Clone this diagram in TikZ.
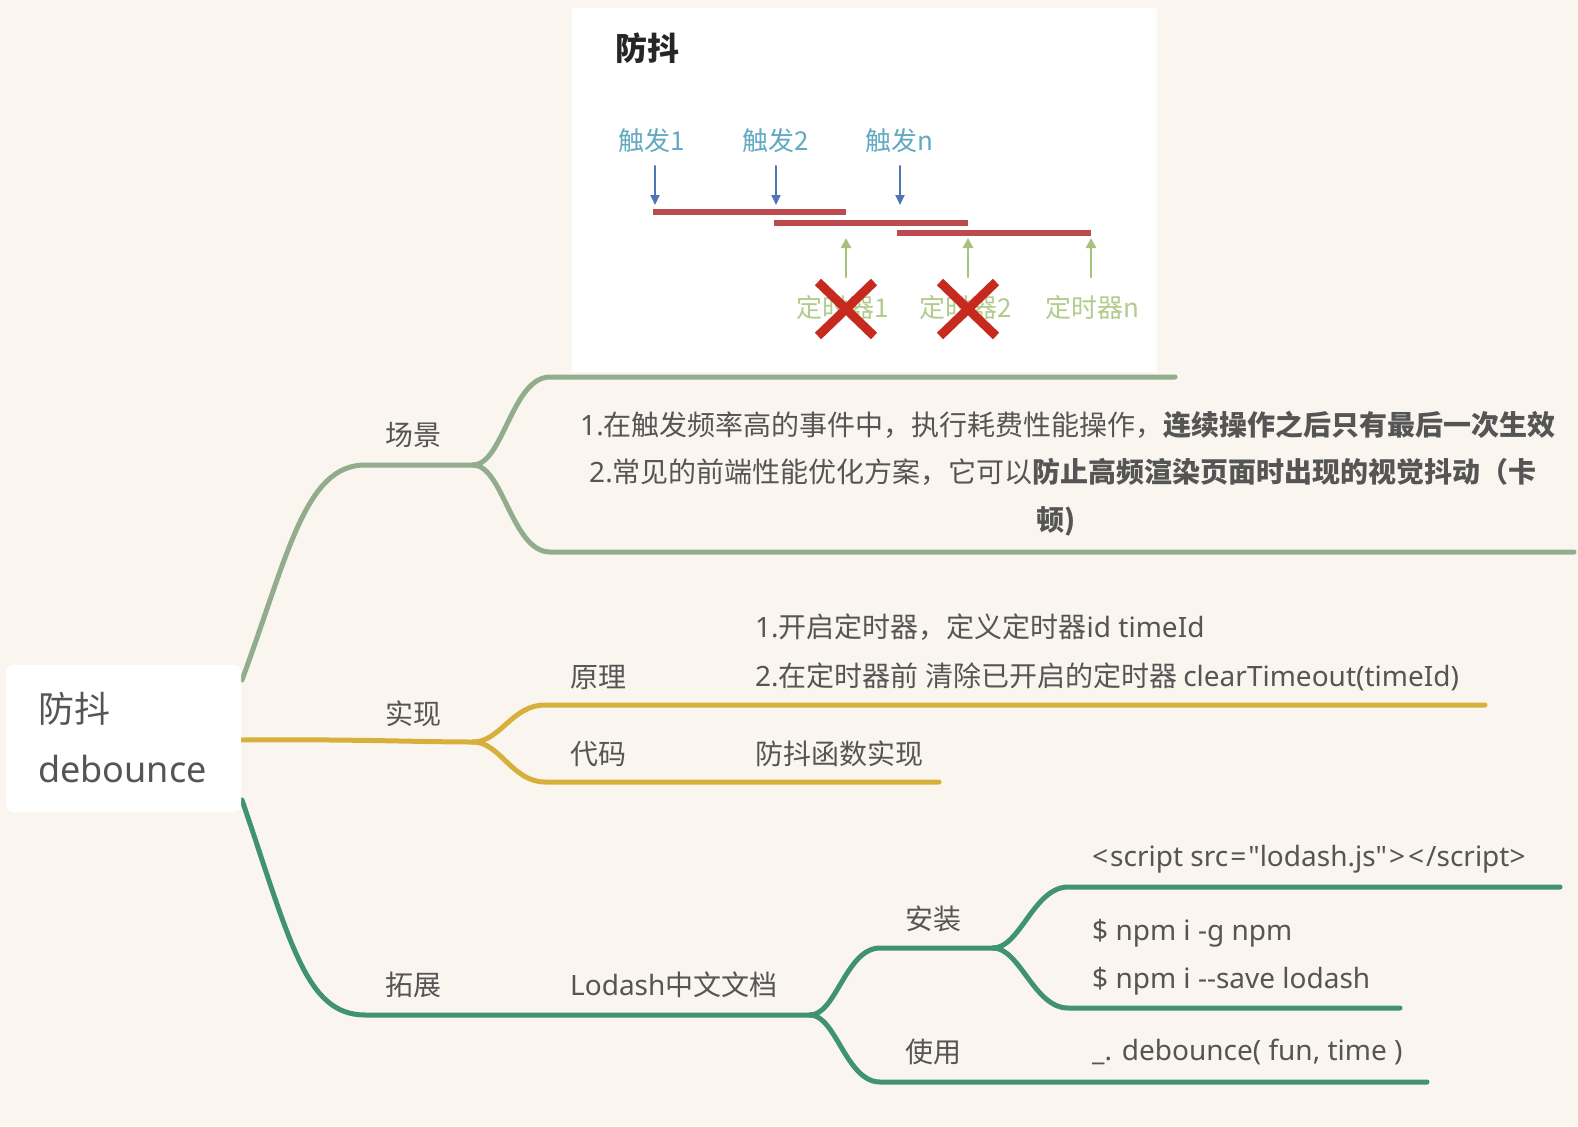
\documentclass[tikz,border=0pt]{standalone}
\usepackage{fontspec}
\setmainfont{Noto Sans CJK SC}
\newfontfamily\latfont{Noto Sans}
\newcommand{\lat}[1]{{\latfont #1}}
\usetikzlibrary{arrows.meta}
\definecolor{bg}{HTML}{FAF6EF}
\definecolor{txt}{HTML}{555555}
\definecolor{cA}{HTML}{91AD8D}
\definecolor{cB}{HTML}{D6B03A}
\definecolor{cC}{HTML}{3F9373}
\definecolor{trigc}{HTML}{62A9C2}
\definecolor{timc}{HTML}{B3CB8C}
\definecolor{barc}{HTML}{BC4A4F}
\definecolor{downc}{HTML}{4F75B5}
\definecolor{upc}{HTML}{A6C27C}
\definecolor{xc}{HTML}{C62A1F}
\begin{document}
\begin{tikzpicture}[x=1pt,y=-1pt,line cap=round,line join=round,
  lbl/.style={font=\fontsize{28}{32}\selectfont,text=txt,inner sep=0pt},
  rootlbl/.style={font=\fontsize{36}{40}\selectfont,text=txt,inner sep=0pt,anchor=base west},
  rootbox/.style={draw=none,fill=white,rounded corners=7pt,minimum width=235pt,minimum height=147pt,inner sep=0pt},
  brA/.style={draw=cA,line width=5pt},
  brB/.style={draw=cB,line width=5pt},
  brC/.style={draw=cC,line width=5pt},
  trig/.style={font=\fontsize{26}{30}\selectfont,text=trigc,inner sep=0pt,anchor=base},
  tim/.style={font=\fontsize{26}{30}\selectfont,text=timc,inner sep=0pt,anchor=base},
  bar/.style={draw=barc,line width=6pt,line cap=butt},
  downarr/.style={draw=downc,line width=2pt,-{Triangle[length=10pt,width=9pt]}},
  uparr/.style={draw=upc,line width=2.5pt,-{Triangle[length=10pt,width=10pt]}},
  cross/.style={draw=xc,line width=9pt,line cap=butt}]
\useasboundingbox (0,0) rectangle (1578,1126);
\fill[bg] (0,0) rectangle (1578,1126);

% ---------- embedded picture ----------
\fill[white] (572,8) rectangle (1157,372);
\node[font=\fontsize{32}{36}\selectfont\bfseries,text=black!85,inner sep=0pt,anchor=base] (title) at (647,61) {防抖};
\node[trig] (t1) at (652,151) {触发1};
\node[trig] (t2) at (776,151) {触发2};
\node[trig] (t3) at (899,151) {触发n};
\draw[downarr] (655,166) -- (655,205);
\draw[downarr] (776,166) -- (776,205);
\draw[downarr] (900,166) -- (900,205);
\draw[bar] (653,212) -- (846,212);
\draw[bar] (774,223) -- (968,223);
\draw[bar] (897,233) -- (1091,233);
\draw[uparr] (846,277) -- (846,238);
\draw[uparr] (968,277) -- (968,238);
\draw[uparr] (1091,277) -- (1091,238);
\node[tim] (k1) at (843,317) {定时器1};
\node[tim] (k2) at (966,317) {定时器2};
\node[tim] (k3) at (1092,317) {定时器n};
\draw[cross] (818,282) -- (874,336) (874,282) -- (818,336);
\draw[cross] (940,282) -- (996,336) (996,282) -- (940,336);

% ---------- coordinates ----------
\coordinate (rA) at (242,680);
\coordinate (rB) at (240,740);
\coordinate (rC) at (242,800);
\coordinate (fA) at (473,465);
\coordinate (fB) at (473,742);
\coordinate (fC) at (810,1015);
\coordinate (fC1) at (993,948);
\coordinate (eA1) at (1175,377);
\coordinate (eA2) at (1574,552);
\coordinate (eB1) at (1485,705);
\coordinate (eB2) at (939,782);
\coordinate (eC1) at (1560,887);
\coordinate (eC2) at (1400,1008);
\coordinate (eC3) at (1427,1082);

% ---------- branches ----------
\draw[brA] (rA) .. controls (288,555) and (305,465) .. (365,465) -- (fA);
\draw[brA] (fA) .. controls (503,465) and (512,377) .. (550,377) -- (eA1);
\draw[brA] (fA) .. controls (503,465) and (512,552) .. (550,552) -- (eA2);

\draw[brB] (rB) .. controls (350,739) and (420,742) .. (fB);
\draw[brB] (fB) .. controls (500,742) and (512,705) .. (545,705) -- (eB1);
\draw[brB] (fB) .. controls (500,742) and (512,782) .. (545,782) -- (eB2);

\draw[brC] (rC) .. controls (290,940) and (305,1015) .. (365,1015) -- (fC);
\draw[brC] (fC) .. controls (836,1015) and (846,948) .. (880,948) -- (fC1);
\draw[brC] (fC) .. controls (836,1015) and (846,1082) .. (880,1082) -- (eC3);
\draw[brC] (fC1) .. controls (1020,948) and (1034,887) .. (1068,887) -- (eC1);
\draw[brC] (fC1) .. controls (1020,948) and (1034,1008) .. (1068,1008) -- (eC2);

% ---------- root ----------
\node[rootbox] (root) at (123.5,738.5) {};
\node[rootlbl] (rt1) at (38,722) {防抖};
\node[rootlbl] (rt2) at (38,782) {\lat{debounce}};

% ---------- labels ----------
\node[lbl,anchor=base] (sA) at (413,445) {场景};
\node[lbl,anchor=base] (s1) at (1068,435) {\lat{1.}在触发频率高的事件中，执行耗费性能操作，\textbf{连续操作之后只有最后一次生效}};
\node[lbl,anchor=base] (s2) at (1063,482) {\lat{2.}常见的前端性能优化方案，它可以\textbf{防止高频渲染页面时出现的视觉抖动（卡}};
\node[lbl,anchor=base] (s3) at (1056,530) {\textbf{顿)}};

\node[lbl,anchor=base] (sB) at (413,724) {实现};
\node[lbl,anchor=base west] (p1) at (570,687) {原理};
\node[lbl,anchor=base west] (p1a) at (755,637) {\lat{1.}开启定时器，定义定时器\lat{id timeId}};
\node[lbl,anchor=base west] (p1b) at (755,686) {\lat{2.}在定时器前 清除已开启的定时器 \lat{clearTimeout(timeId)}};
\node[lbl,anchor=base west] (p2) at (570,764) {代码};
\node[lbl,anchor=base west] (p2a) at (755,764) {防抖函数实现};

\node[lbl,anchor=base] (sC) at (413,995) {拓展};
\node[lbl,anchor=base west] (q1) at (570,995) {\lat{Lodash}中文文档};
\node[lbl,anchor=base] (q2) at (933,929) {安装};
\node[lbl,anchor=base] (q3) at (933,1062) {使用};
\node[lbl,anchor=base west] (q2a) at (1092,866) {\lat{<\kern2pt script src\kern2pt=\kern2pt\char34 lodash.js\char34\kern2pt>\kern3pt<\kern2pt/script>}};
\node[lbl,anchor=base west] (q2b) at (1092,940) {\lat{\$ npm i -g npm}};
\node[lbl,anchor=base west] (q2c) at (1092,988) {\lat{\$ npm i -{}-save lodash}};
\node[lbl,anchor=base west] (q3a) at (1092,1060) {\lat{\_. debounce( fun, time )}};
\end{tikzpicture}
\end{document}
